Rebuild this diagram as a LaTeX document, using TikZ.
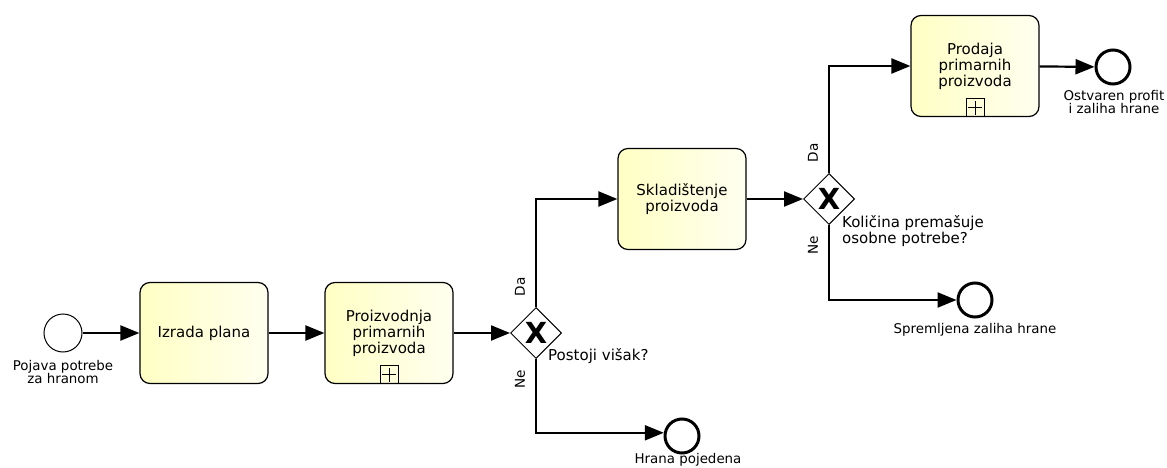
\documentclass[tikz,border=0pt]{standalone}
\usepackage{fontspec}
\setmainfont{DejaVu Sans}
\usetikzlibrary{shapes.geometric,arrows.meta}
\definecolor{taskY}{HTML}{FFFFC4}
\definecolor{taskW}{HTML}{FFFFF0}
\begin{document}
\begin{tikzpicture}[x=1pt,y=-1pt,
  task/.style={rectangle, rounded corners=10pt, draw=black, line width=1.2pt,
    minimum width=128pt, minimum height=101pt, align=center,
    left color=taskY, right color=taskW,
    font=\fontsize{15}{16}\selectfont, inner sep=2pt},
  gate/.style={diamond, draw=black, line width=1pt, fill=white, aspect=1,
    minimum width=51pt, minimum height=51pt, inner sep=0pt},
  gatex/.style={font=\fontsize{29}{29}\selectfont\bfseries, inner sep=0pt},
  startev/.style={circle, draw=black, line width=1pt, fill=white, minimum size=38pt, inner sep=0pt},
  endev/.style={circle, draw=black, line width=3pt, fill=white, minimum size=34pt, inner sep=0pt},
  evlabel/.style={align=center, font=\fontsize{13.4}{12.5}\selectfont, inner sep=0pt},
  gatelabel/.style={align=left, anchor=west, font=\fontsize{15}{16}\selectfont, inner sep=0pt},
  flowlabel/.style={rotate=90, font=\fontsize{13.6}{14}\selectfont, inner sep=0pt},
  marker/.style={rectangle, draw=black, line width=1pt, minimum size=18pt, inner sep=0pt, anchor=south,
    path picture={\draw[line width=1pt] (path picture bounding box.center) ++(-7pt,0pt) -- ++(14pt,0pt);
                  \draw[line width=1pt] (path picture bounding box.center) ++(0pt,-7pt) -- ++(0pt,14pt);}},
  flow/.style={draw=black, line width=2.2pt, -{Triangle[length=19pt,width=15pt]}}
]
\useasboundingbox (0,0) rectangle (1167,468);

% nodes
\node (start) [startev] at (63,333) {};
\node (t1) [task] at (204,333) {Izrada plana};
\node (t2) [task] at (389,333) {Proizvodnja\\primarnih\\proizvoda};
\node (t2m) [marker] at (t2.south) {};
\node (g1) [gate] at (536,333) {};
\node (g1x) [gatex] at (g1.center) {X};
\node (t3) [task] at (682,199) {Skladištenje\\proizvoda};
\node (g2) [gate] at (829,199) {};
\node (g2x) [gatex] at (g2.center) {X};
\node (t4) [task] at (975,66) {Prodaja\\primarnih\\proizvoda};
\node (t4m) [marker] at (t4.south) {};
\node (e1) [endev] at (1113,67) {};
\node (e2) [endev] at (975,300) {};
\node (e3) [endev] at (682,436) {};

% labels
\node (l0) [evlabel] at (63,372) {Pojava potrebe\\za hranom};
\node (l1) [evlabel] at (1114,102) {Ostvaren profit\\i zaliha hrane};
\node (l2) [evlabel] at (975,330) {Spremljena zaliha hrane};
\node (l3) [evlabel] at (688,460) {Hrana pojedena};
\node (lg1) [gatelabel] at (548,356) {Postoji višak?};
\node (lg2) [gatelabel] at (842,231) {Količina premašuje\\osobne potrebe?};
\node (da1) [flowlabel] at (520,287) {Da};
\node (ne1) [flowlabel] at (520,379) {Ne};
\node (da2) [flowlabel] at (813,153) {Da};
\node (ne2) [flowlabel] at (813,245) {Ne};

% connectors
\draw[flow] (start) -- (t1);
\draw[flow] (t1) -- (t2);
\draw[flow] (t2) -- (g1);
\draw[flow] (g1.north) |- (t3.west);
\draw[flow] (g1.south) |- (e3.170);
\draw[flow] (t3) -- (g2);
\draw[flow] (g2.north) |- (t4.west);
\draw[flow] (g2.south) |- (e2.west);
\draw[flow] (t4) -- (e1);
\end{tikzpicture}
\end{document}
